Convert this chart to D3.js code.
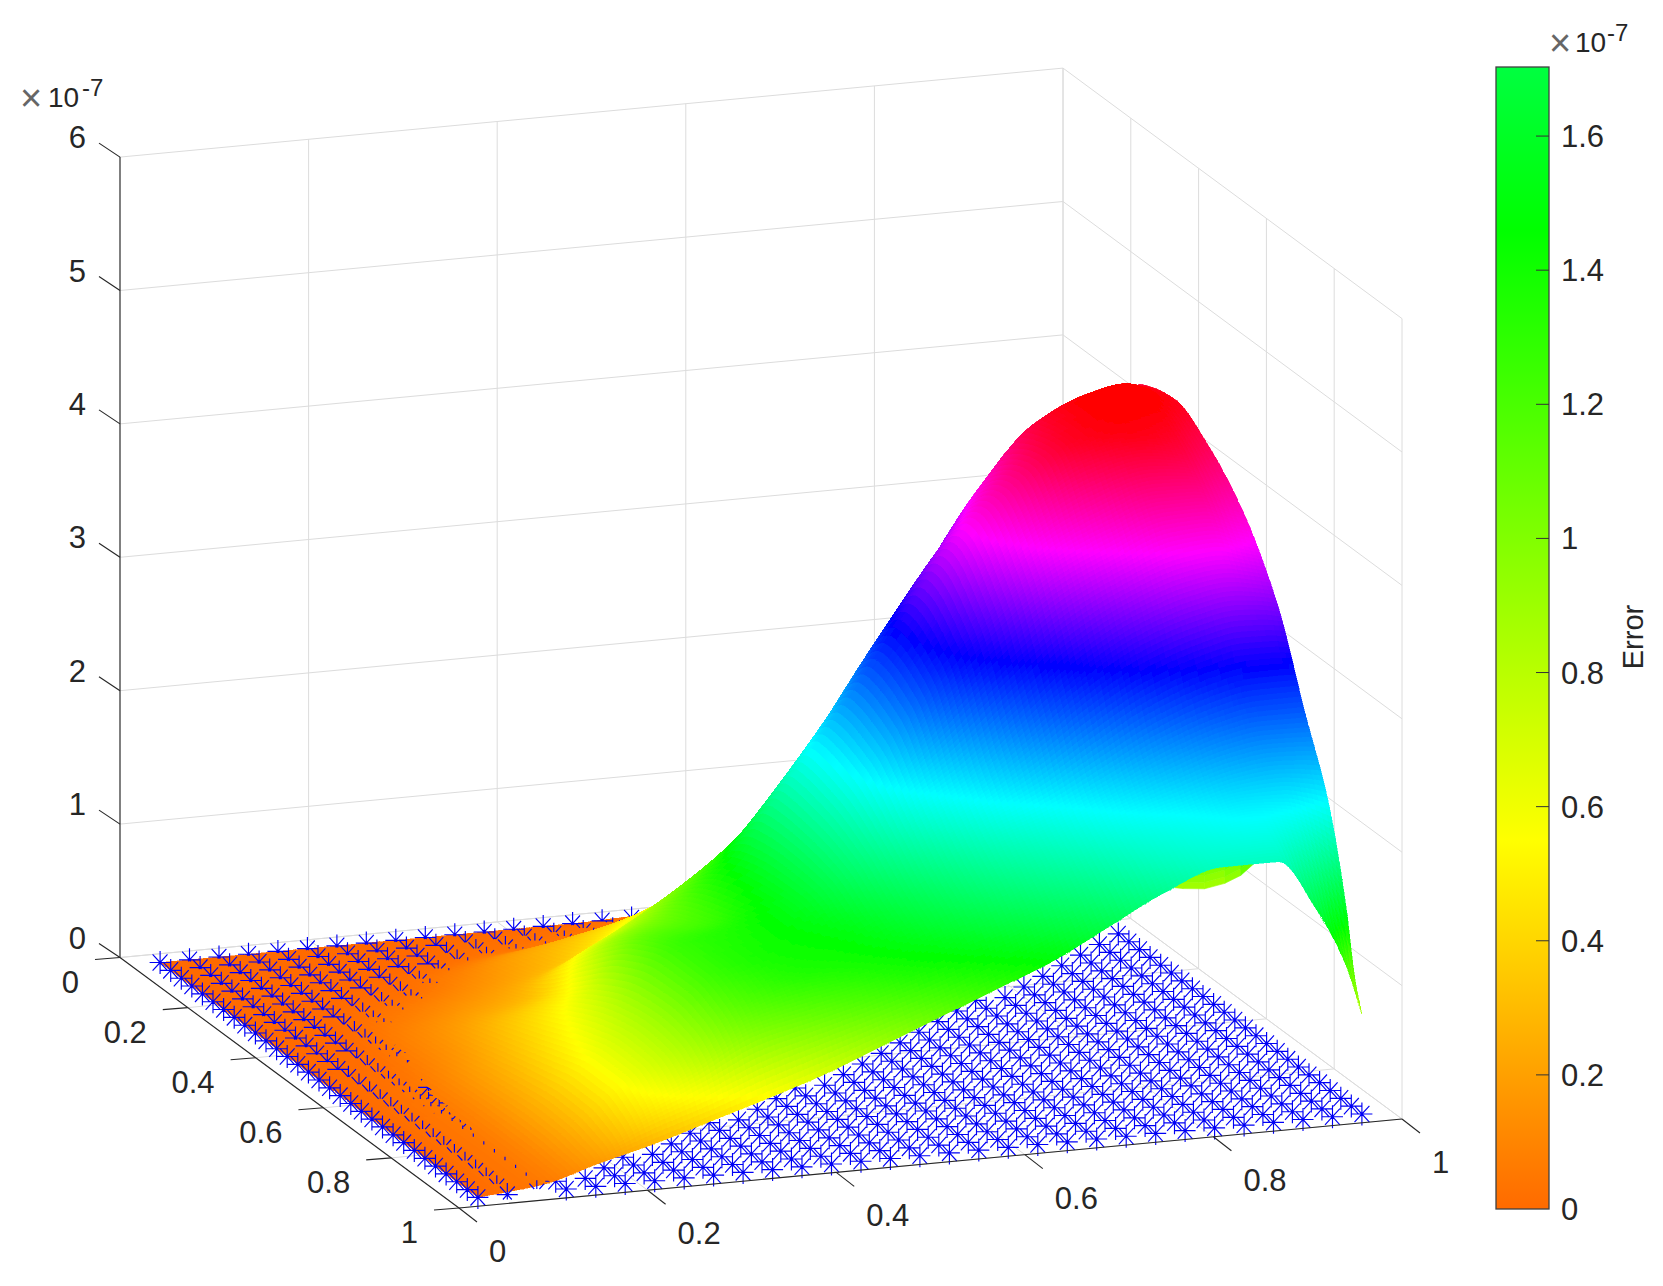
<!DOCTYPE html>
<html><head><meta charset="utf-8">
<script src="https://cdn.jsdelivr.net/npm/d3@7/dist/d3.min.js"></script>
<style>html,body{margin:0;background:#fff}svg{display:block}text{font-family:"Liberation Sans",Arial,sans-serif;fill:#262626}</style>
</head><body><svg id="c" width="1663" height="1286"></svg>
<script>
// ---- data ----
const axisTicks=[0,0.2,0.4,0.6,0.8,1];
const zTicks=[0,1,2,3,4,5,6];
const barTicks=[0,0.2,0.4,0.6,0.8,1,1.2,1.4,1.6];
const markerGrid=[.03125,.0625,.09375,.125,.15625,.1875,.21875,.25,.28125,.3125,.34375,.375,.40625,.4375,.46875,.5,.53125,.5625,.59375,.625,.65625,.6875,.71875,.75,.78125,.8125,.84375,.875,.90625,.9375,.96875];
const tableX=[.03125,.1,.16,.22,.28,.34,.4,.46,.52,.58,.64,.7,.76,.82,.88,.92,.95,.96875];
const tableY=[.03125,.12,.22,.32,.42,.52,.62,.72,.8,.87,.92,.95,.96875];
// height of the surface (units of 1e-7), one row per tableX entry, one column per tableY entry
const surfaceZ=[
[0,0,0,0,0,0,0,0,0,0,0,0,0],
[0,0,0,0,.01,.03,.05,.06,.06,.06,.06,.06,.05],
[0,0,.005,.04,.1,.14,.2,.24,.26,.25,.22,.2,.17],
[0,0,.02,.1,.2,.32,.42,.52,.58,.58,.5,.4,.28],
[0,.005,.09,.18,.3,.5,.7,.82,.85,.82,.72,.55,.41],
[0,.03,.2,.3,.6,.88,1.08,1.18,1.18,1.1,.95,.72,.54],
[0,.05,.3,.5,.82,1.04,1.16,1.28,1.3,1.25,1.05,.85,.68],
[0,.08,.4,.72,1.1,1.36,1.44,1.46,1.38,1.3,1.15,.98,.85],
[.01,.15,.55,.95,1.47,1.9,1.85,1.73,1.55,1.42,1.28,1.12,1.02],
[.02,.25,.7,1.3,2,2.44,2.33,2,1.75,1.58,1.42,1.28,1.19],
[.03,.35,.9,1.7,2.62,3.03,2.85,2.25,1.95,1.75,1.58,1.45,1.36],
[.05,.5,1.2,2.2,3.2,3.62,3.3,2.6,2.1,1.9,1.75,1.65,1.58],
[.1,.7,1.6,2.7,3.8,4.02,3.65,2.95,2.3,2.05,1.95,1.87,1.8],
[.2,1,2.1,3.3,4.24,4.3,3.85,3.2,2.5,2.15,2.05,2,1.95],
[.4,1.4,2.6,3.8,4.42,4.38,4,3.35,2.65,2.25,2.1,2.02,1.95],
[.7,1.8,3,4.08,4.46,4.33,4,3.4,2.7,2.25,1.98,1.74,1.57],
[1.1,2.1,3.2,4.24,4.38,4.22,3.9,3.38,2.7,2.2,1.72,1.32,1.16],
[1.6,2.4,3.3,4.25,4.32,4.15,3.85,3.35,2.7,2.15,1.5,.95,.75]];
// small lobe seen under the front edge of the surface
const lobeX=[.9025,.909,.929,.955,.963,.972];
const lobeY=[.601,.607,.615,.6025,.627,.651];
const lobeZ=[1.05,1.05,1.05,1.05,1.15,1.3];
const surfaceStops=[0,.55,1.35,2.15,3,3.7,4.4];
const barStops=[0,.55,1.46,1.703];
const hotColors=["#ff6a00","#ffff00","#00ff00","#00ffff","#0000ff","#ff00ff","#ff0000"];
const barColors=["#ff6a00","#ffff00","#00ff00","#00ff40"];

// ---- projection (orthographic, through linear scales) ----
const ox=120,oy=957.5;
const xToSx=d3.scaleLinear([0,1],[0,943]), xToSy=d3.scaleLinear([0,1],[0,-89]);
const yToSx=d3.scaleLinear([0,1],[0,339]), yToSy=d3.scaleLinear([0,1],[0,250.5]);
const zToSy=d3.scaleLinear([0,6],[0,-800.4]);
const P=(x,y,z=0)=>[ox+xToSx(x)+yToSx(y),oy+xToSy(x)+yToSy(y)+zToSy(z)];
const surfColor=d3.scaleLinear(surfaceStops,hotColors).clamp(true);
const svg=d3.select("#c");

// ---- monotone cubic through a column of the table ----
function tangents(xs,ys){const n=xs.length,d=[],m=new Array(n);
  for(let i=0;i<n-1;i++)d.push((ys[i+1]-ys[i])/(xs[i+1]-xs[i]));
  m[0]=d[0];m[n-1]=d[n-2];
  for(let i=1;i<n-1;i++)m[i]=d[i-1]*d[i]<=0?0:2*d[i-1]*d[i]/(d[i-1]+d[i]);
  return m;}
function herm(xs,ys,m,t){let i=d3.bisectRight(xs,t)-1;i=Math.max(0,Math.min(xs.length-2,i));
  const h=xs[i+1]-xs[i],u=(t-xs[i])/h,u2=u*u,u3=u2*u;
  return (2*u3-3*u2+1)*ys[i]+(u3-2*u2+u)*h*m[i]+(-2*u3+3*u2)*ys[i+1]+(u3-u2)*h*m[i+1];}
const colTan=surfaceZ.map(c=>tangents(tableY,c));
function rowAt(y){return surfaceZ.map((c,k)=>herm(tableY,c,colTan[k],y));}
function surf(x,y){const r=rowAt(y);return Math.max(0,herm(tableX,r,tangents(tableX,r),x));}

const NX=170,NY=240;
const fx=d3.range(NX+1).map(i=>tableX[0]+(tableX[tableX.length-1]-tableX[0])*i/NX);
const fy=d3.range(NY+1).map(j=>tableY[0]+(tableY[tableY.length-1]-tableY[0])*j/NY);
const F=fx.map(()=>new Array(NY+1));
fy.forEach((y,j)=>{const r=rowAt(y),m=tangents(tableX,r);fx.forEach((x,i)=>{F[i][j]=Math.max(0,herm(tableX,r,m,x));});});

// ---- walls and floor ----
const gridC="#dcdcdc";
function seg(g,a,b,col,w){g.append("line").attr("x1",a[0]).attr("y1",a[1]).attr("x2",b[0]).attr("y2",b[1]).attr("stroke",col).attr("stroke-width",w);}
const walls=svg.append("g");
axisTicks.forEach(t=>{
  seg(walls,P(t,0,0),P(t,1,0),gridC,1);
  seg(walls,P(0,t,0),P(1,t,0),gridC,1);
  seg(walls,P(t,0,0),P(t,0,6),gridC,1);
  seg(walls,P(1,t,0),P(1,t,6),gridC,1);
});
zTicks.forEach(z=>{seg(walls,P(0,0,z),P(1,0,z),gridC,1);seg(walls,P(1,0,z),P(1,1,z),gridC,1);});

const defs=svg.append("defs");
defs.append("filter").attr("id","soft").attr("filterUnits","userSpaceOnUse").attr("x",0).attr("y",0).attr("width",1663).attr("height",1286)
  .append("feGaussianBlur").attr("stdDeviation",.7);

// ---- lobe ----
const lobe=svg.append("g");
for(let i=0;i<lobeX.length-1;i++){for(let k=0;k<10;k++){
  const a=k/10,b=(k+1)/10,d=.5;
  const q=[P(lobeX[i],lobeY[i],lobeZ[i]+a*d),P(lobeX[i+1],lobeY[i+1],lobeZ[i+1]+a*d),P(lobeX[i+1],lobeY[i+1],lobeZ[i+1]+b*d),P(lobeX[i],lobeY[i],lobeZ[i]+b*d)];
  const col=surfColor((lobeZ[i]+lobeZ[i+1])/2-.2+a*d);
  lobe.append("path").attr("d","M"+q.join("L")+"Z").attr("fill",col).attr("stroke",col).attr("stroke-width",.6);
}}

// ---- surface cells, far to near ----
const s0=.07;
const low=[],high=[];
for(let i=NX-1;i>=0;i--)for(let j=0;j<NY;j++){
  const zz=[F[i][j],F[i+1][j],F[i+1][j+1],F[i][j+1]];
  const q=[P(fx[i],fy[j],zz[0]),P(fx[i+1],fy[j],zz[1]),P(fx[i+1],fy[j+1],zz[2]),P(fx[i],fy[j+1],zz[3])];
  const mx=d3.max(zz),c={d:"M"+q.map(p=>p[0].toFixed(1)+","+p[1].toFixed(1)).join("L")+"Z",col:surfColor(d3.mean(zz))};
  (mx<s0?low:high).push(c);
}
function drawCells(g,cells){g.attr("filter","url(#soft)").attr("shape-rendering","crispEdges").selectAll("path").data(cells).join("path").attr("d",d=>d.d).attr("fill",d=>d.col).attr("stroke",d=>d.col).attr("stroke-width",.5);}
drawCells(svg.append("g"),low);

// ---- markers ----
const front=fx.map((x,i)=>P(x,fy[NY],F[i][NY])).sort((a,b)=>a[0]-b[0]);
const frontY=sx=>{const i=d3.bisector(d=>d[0]).left(front,sx);if(i<=0||i>=front.length)return -1e9;
  const a=front[i-1],b=front[i],t=(sx-a[0])/(b[0]-a[0]);return a[1]+t*(b[1]-a[1]);};
const RX=10.5,RY=11.5,last=markerGrid.length-1;
let md="";
markerGrid.forEach((x,ix)=>markerGrid.forEach((y,iy)=>{
  const s=surf(x,y),c=P(x,y,0);
  if(s>=s0&&!(c[1]>frontY(c[0])))return;
  const edge=ix===0||iy===last;
  const lim=s>=s0?RY:(edge?RY:1.5)-((edge?RY:1.5)+RY)*s/s0;
  for(let k=0;k<8;k++){
    const a=k*Math.PI/4,dx=Math.cos(a)*RX,dy=Math.abs(Math.sin(a))<1e-6?0:Math.sin(a)*RY;
    let t0=0,t1=1;
    if(dy>0){if(lim<=0)continue;t1=Math.min(1,lim/dy);}
    else if(dy<0){if(lim<0){t0=lim/dy;if(t0>=1)continue;}}
    else if(lim<=0)continue;
    md+=`M${(c[0]+dx*t0).toFixed(1)},${(c[1]+dy*t0).toFixed(1)}L${(c[0]+dx*t1).toFixed(1)},${(c[1]+dy*t1).toFixed(1)}`;
  }
}));
svg.append("path").attr("d",md).attr("fill","none").attr("stroke","#0000f5").attr("stroke-width",1.15);
drawCells(svg.append("g"),high);

// ---- axes ----
const axC="#262626",ax=svg.append("g");
seg(ax,P(0,0,0),P(0,0,6),axC,1.1);
seg(ax,P(0,0,0),P(0,1,0),axC,1.1);
seg(ax,P(0,1,0),P(1,1,0),axC,1.1);
const fs=31;
function label(x,y,t,anchor,size){return svg.append("text").attr("x",x).attr("y",y).attr("text-anchor",anchor||"start").attr("font-size",size||fs).text(t);}
zTicks.forEach(z=>{const p=P(0,0,z);seg(ax,p,[p[0]-21,p[1]-14],axC,1.1);label(p[0]-34,p[1]-9,String(z),"end");});
axisTicks.forEach(t=>{
  const p=P(0,t,0);seg(ax,p,[p[0]-25,p[1]+2],axC,1.1);label(p[0]-41,p[1]+35,String(t),"end");
  const q=P(t,1,0);seg(ax,q,[q[0]+18,q[1]+14],axC,1.1);label(q[0]+30,q[1]+54,String(t),"start");
});
function exponent(x,y,d10,dSup){
  svg.append("text").attr("x",x).attr("y",y+4).attr("font-size",38).style("fill","#666").text("×");
  label(x+d10,y,"10","start",28);
  label(x+dSup,y-11,"-7","start",24);
}
exponent(20,107,28,62);

// ---- colorbar ----
const barY=d3.scaleLinear([0,1.703],[1209,67]);
const lg=defs.append("linearGradient").attr("id","bar").attr("x1",0).attr("x2",0).attr("y1",1).attr("y2",0);
barStops.forEach((v,i)=>lg.append("stop").attr("offset",v/1.703).attr("stop-color",barColors[i]));
svg.append("rect").attr("x",1496).attr("y",67).attr("width",53).attr("height",1142).attr("fill","url(#bar)").attr("stroke","#404040").attr("stroke-width",1.3);
barTicks.forEach(v=>{const y=barY(v);if(v>0)seg(svg,[1536,y],[1549,y],"#333",1);label(1561,y+11,String(v),"start");});
exponent(1549,52,26,58);
label(0,0,"Error","middle",29).attr("transform","translate(1643,637) rotate(-90)");
</script></body></html>
